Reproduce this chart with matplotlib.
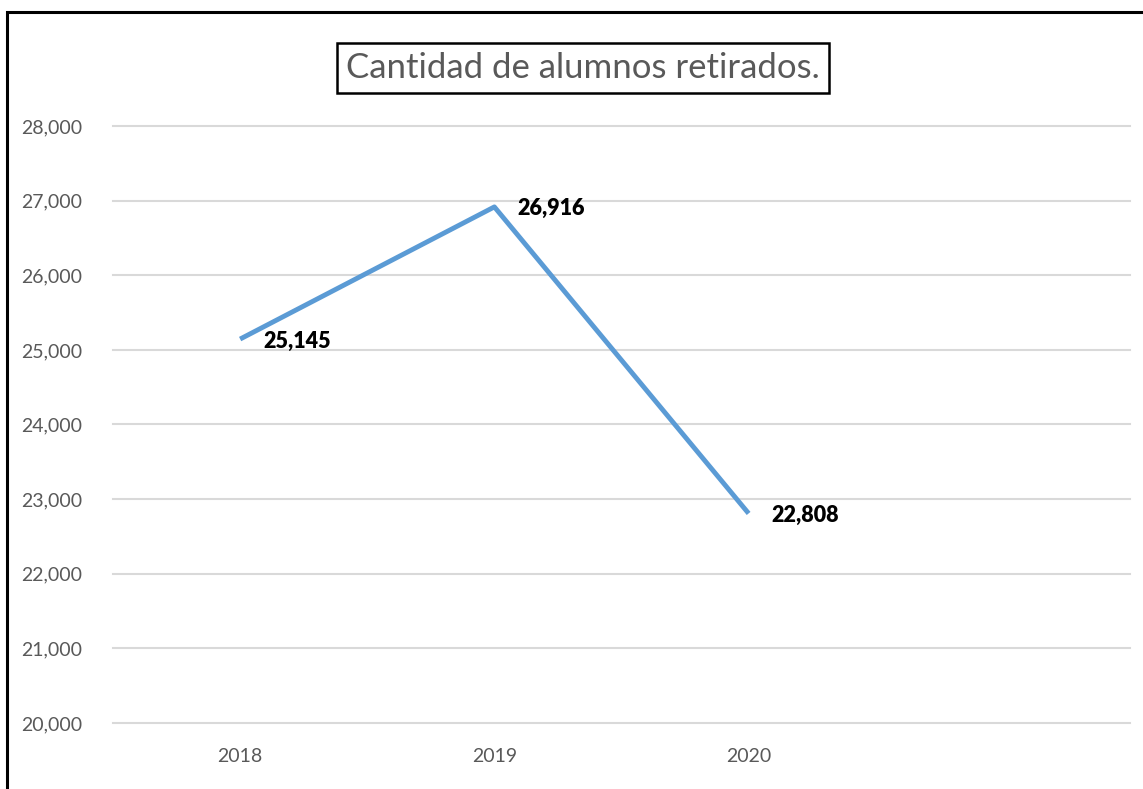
import matplotlib
matplotlib.use("Agg")
import matplotlib.pyplot as plt
from matplotlib.patches import Rectangle
from matplotlib.ticker import FuncFormatter

categories = ["2018", "2019", "2020", ""]
years = ["2018", "2019", "2020"]
values = [25145, 26916, 22808]
title = "Cantidad de alumnos retirados."

W, H = 1143, 789
fig = plt.figure(figsize=(W / 100, H / 100), dpi=100)
fam = ["Lato", "DejaVu Sans"]

ax = fig.add_axes([113 / W, 1 - 723 / H, (1130 - 113) / W, (723 - 126) / H])
x = list(range(len(years)))
ax.plot(x, values, color="#5B9BD5", lw=3.5, solid_capstyle="butt", zorder=3)
for xi, v in zip(x, values):
    ax.annotate(f"{v:,}", (xi, v), xytext=(23, -2), textcoords="offset pixels",
                ha="left", va="center", fontsize=15.5, fontweight="heavy",
                color="black", family=fam)

ax.set_xlim(-0.5, len(categories) - 0.5)
ax.set_ylim(20000, 28000)
ax.set_yticks(range(20000, 28001, 1000))
ax.yaxis.set_major_formatter(FuncFormatter(lambda v, p: f"{int(v):,}"))
ax.set_xticks(range(len(categories)))
ax.set_xticklabels(categories)
ax.grid(axis="y", color="#d9d9d9", lw=1.5)
for gl in ax.get_ygridlines():
    gl.set_clip_on(False)
ax.set_axisbelow(True)
for s in ax.spines.values():
    s.set_visible(False)
ax.tick_params(axis="both", length=0, colors="#595959", labelsize=14)
ax.tick_params(axis="y", pad=22)
ax.tick_params(axis="x", pad=18)
for lab in ax.get_xticklabels() + ax.get_yticklabels():
    lab.set_family(fam)

fig.text(583 / W, 1 - 68 / H, title, ha="center", va="center", fontsize=25,
         color="#595959", family=fam,
         bbox=dict(boxstyle="square,pad=0.25", fc="white", ec="black", lw=1.8))

fig.patches.append(Rectangle((7 / W, -0.1), 1.2, 1 - 12 / H + 0.1,
                             transform=fig.transFigure, fill=False,
                             ec="black", lw=2.2, zorder=10))

fig.savefig("out.png", dpi=100)
